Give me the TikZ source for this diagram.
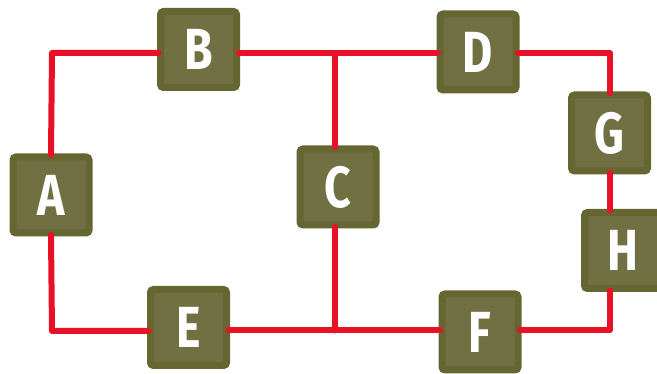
\documentclass[tikz,border=0pt]{standalone}
\usepackage{fontspec}
\setmainfont{Fira Sans}[FakeStretch=0.8]
\usetikzlibrary{calc}
\definecolor{boxfill}{RGB}{112,112,66}
\definecolor{boxline}{RGB}{102,102,51}
\definecolor{wire}{RGB}{232,17,38}
\tikzset{
  block/.style={draw=boxline, fill=boxfill, line width=7pt, rounded corners=3pt,
    minimum width=76pt, minimum height=76pt, inner sep=0pt,
    text=white, font=\fontsize{58}{58}\selectfont\bfseries},
  link/.style={draw=wire, line width=6pt, line cap=round, line join=round,
    shorten <=-1.5pt, shorten >=-1.5pt},
}
\begin{document}
\begin{tikzpicture}[x=1pt,y=-1pt]
  \useasboundingbox (0,0) rectangle (657,374);
  % blocks
  \node[block] (A) at (51,195) {A};
  \node[block] (B) at (198.5,49.5) {B};
  \node[block] (C) at (338,187) {C};
  \node[block] (D) at (478,52) {D};
  \node[block] (E) at (188.5,327.5) {E};
  \node[block] (F) at (480,332) {F};
  \node[block] (G) at (609.5,133) {G};
  \node[block] (H) at (622.5,250.5) {H};
  % wire bends and junctions
  \coordinate (tl) at (52,53);
  \coordinate (jt) at (335,53);
  \coordinate (tr) at (610,53);
  \coordinate (bl) at (52,331);
  \coordinate (jb) at (335,330.5);
  \coordinate (br) at (610,330);
  % wiring
  \draw[link] (A.north) -- (tl) -- (tl -| B.west);
  \draw[link] (tl -| B.east) -- (tl -| D.west);
  \draw[link, shorten <=0pt] (jt) -- (jt |- C.north);
  \draw[link] (tr -| D.east) -- (tr) -- (tr |- G.north);
  \draw[link] (tr |- G.south) -- (tr |- H.north);
  \draw[link] (tr |- H.south) -- (br) -- (br -| F.east);
  \draw[link] (jb -| F.west) -- (jb -| E.east);
  \draw[link, shorten >=0pt] (jb |- C.south) -- (jb);
  \draw[link] (A.south) -- (bl) -- (bl -| E.west);
\end{tikzpicture}
\end{document}
